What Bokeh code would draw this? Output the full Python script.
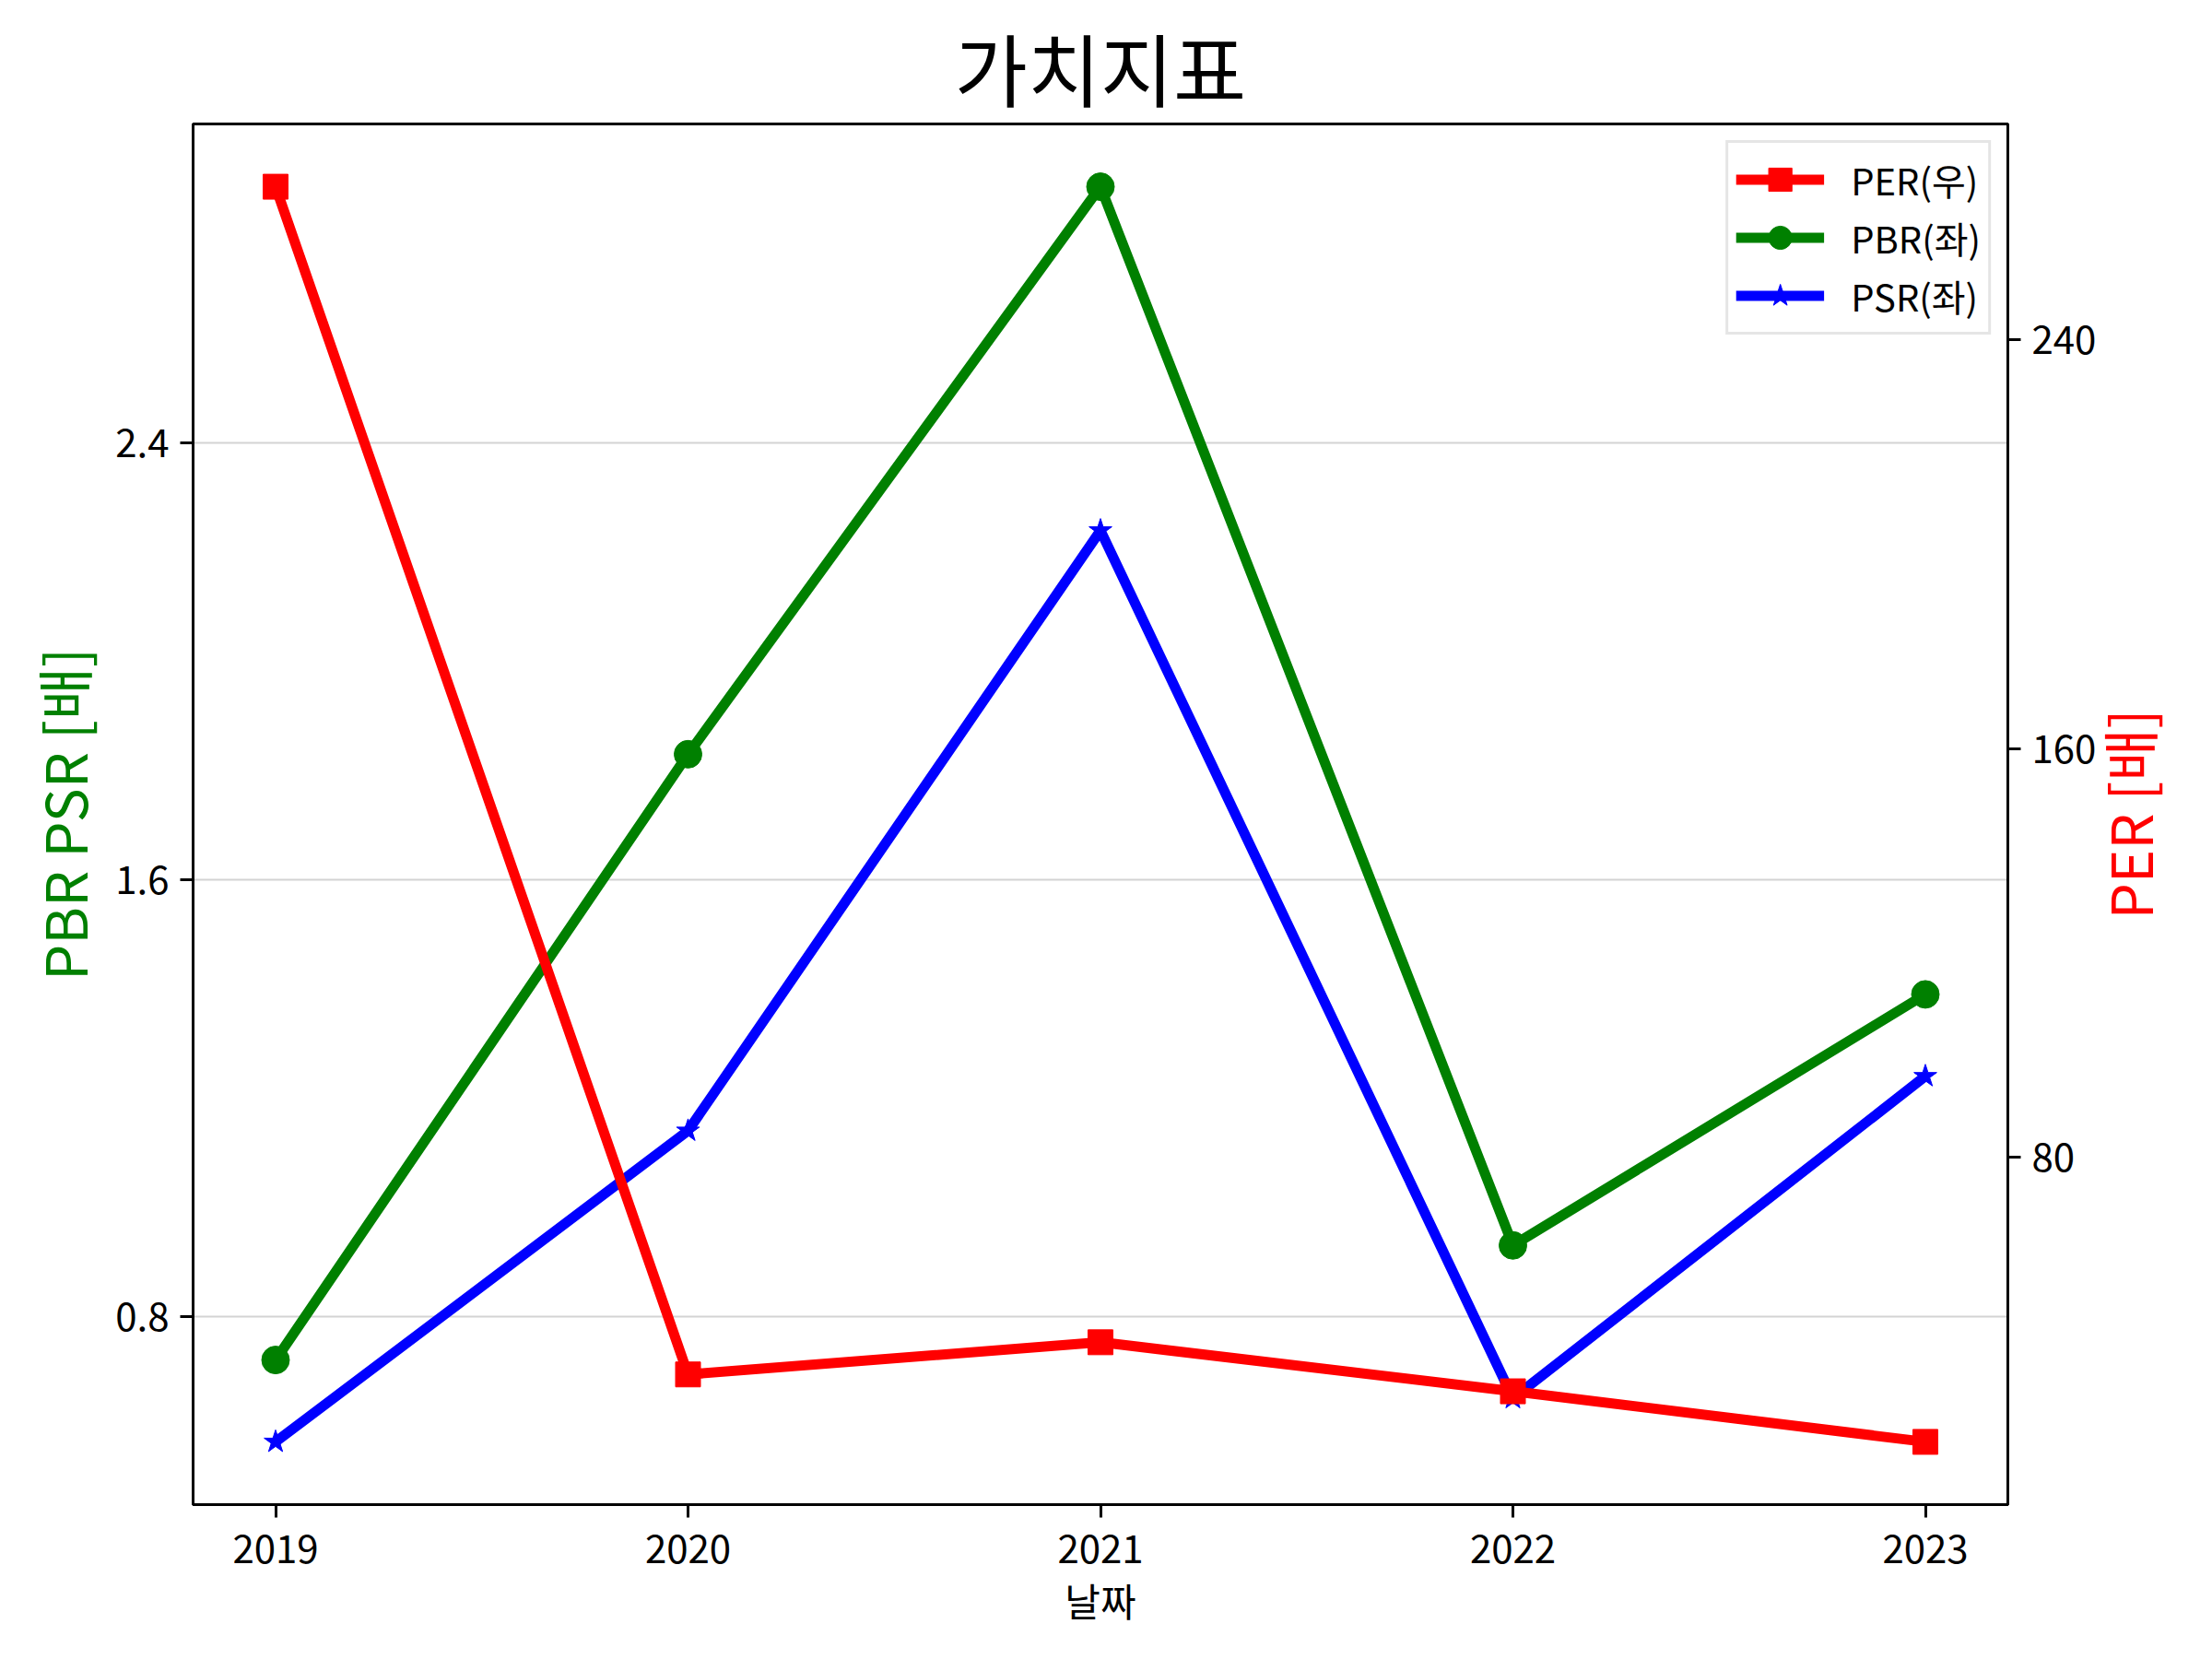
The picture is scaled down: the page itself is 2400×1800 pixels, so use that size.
import math
from bokeh.plotting import figure
from bokeh.models import Range1d, LinearAxis, FixedTicker, Legend, LegendItem, Label
from bokeh.embed import file_html
from bokeh.resources import INLINE

years = [2019, 2020, 2021, 2022, 2023]
per = [270.0, 37.5, 43.8, 34.2, 24.3]
pbr = [0.72, 1.83, 2.87, 0.93, 1.39]
psr = [0.57, 1.14, 2.24, 0.65, 1.24]
left_ticks = [0.8, 1.6, 2.4]
right_ticks = [80, 160, 240]

FONT = "Noto Sans CJK KR"
W, H = 2384, 1784
BL, BR, BT, BB = 209, 206, 134, 152


def pad(lo, hi, f=0.05):
    d = hi - lo
    return lo - d * f, hi + d * f


x0, x1 = pad(min(years), max(years))
l0, l1 = pad(min(pbr + psr), max(pbr + psr))
r0, r1 = pad(min(per), max(per))

p = figure(width=W, height=H, output_backend="svg", toolbar_location=None,
           x_range=Range1d(x0, x1), y_range=Range1d(l0, l1),
           min_border_left=BL, min_border_right=BR,
           min_border_top=BT, min_border_bottom=BB)
p.extra_y_ranges = {"per": Range1d(r0, r1)}

p.title.text = "가치지표"
p.title.align = "center"
p.title.text_font = FONT
p.title.text_font_size = "86px"
p.title.text_font_style = "normal"
p.title.text_color = "black"
p.title.standoff = 0

p.outline_line_color = "black"
p.outline_line_width = 3
p.outline_line_alpha = 1.0

xax = p.xaxis[0]
lax = p.yaxis[0]
xax.ticker = FixedTicker(ticks=years)
lax.ticker = FixedTicker(ticks=left_ticks)
p.xgrid.visible = False
p.ygrid.grid_line_color = "#d3d3d3"
p.ygrid.grid_line_width = 2

rax = LinearAxis(y_range_name="per", ticker=FixedTicker(ticks=right_ticks))
p.add_layout(rax, "right")

xax.axis_label = "날짜"
lax.axis_label = "PBR PSR [배]"

for ax in [xax, lax, rax]:
    ax.axis_line_width = 3
    ax.major_tick_line_width = 3
    ax.major_tick_out = 14
    ax.major_tick_in = 0
    ax.minor_tick_out = 0
    ax.minor_tick_in = 0
    ax.major_label_text_font = FONT
    ax.major_label_text_font_size = "42px"
    ax.major_label_text_color = "black"
    ax.major_label_standoff = 12
    ax.axis_label_text_font = FONT
    ax.axis_label_text_font_style = "normal"

xax.major_label_standoff = 18
xax.axis_label_text_font_size = "42px"
xax.axis_label_text_color = "black"
xax.axis_label_standoff = 6
lax.axis_label_text_font_size = "62px"
lax.axis_label_text_color = "#008000"
lax.axis_label_standoff = 9

# right axis title (bottom-to-top), placed in the right side panel
frame_h = H - BT - BB
p.add_layout(Label(x=31, y=frame_h / 2, x_units="screen", y_units="screen",
                   text="PER [배]", angle=math.pi / 2, text_align="center",
                   text_baseline="middle", text_font=FONT, text_font_size="62px",
                   text_color="#ff0000"), "right")

LW = 11
g_line = p.line(years, pbr, line_color="#008000", line_width=LW)
g_pts = p.scatter(years, pbr, marker="circle", size=30, color="#008000")
b_line = p.line(years, psr, line_color="#0000ff", line_width=LW)
b_pts = p.scatter(years, psr, marker="star", size=26, color="#0000ff")
r_line = p.line(years, per, line_color="#ff0000", line_width=LW, y_range_name="per")
r_pts = p.scatter(years, per, marker="square", size=27, color="#ff0000", y_range_name="per")

legend = Legend(items=[
    LegendItem(label="PER(우)", renderers=[r_line, r_pts]),
    LegendItem(label="PBR(좌)", renderers=[g_line, g_pts]),
    LegendItem(label="PSR(좌)", renderers=[b_line, b_pts]),
], location="top_right")
legend.label_text_font = FONT
legend.label_text_font_size = "40px"
legend.label_text_color = "black"
legend.glyph_width = 96
legend.glyph_height = 63
legend.label_height = 42
legend.label_standoff = 29
legend.spacing = 0
legend.padding = 8
legend.margin = 18
legend.border_line_color = "#cccccc"
legend.border_line_width = 3
legend.background_fill_alpha = 0.8
p.add_layout(legend)

open("out.html", "w").write(file_html(p, INLINE))
